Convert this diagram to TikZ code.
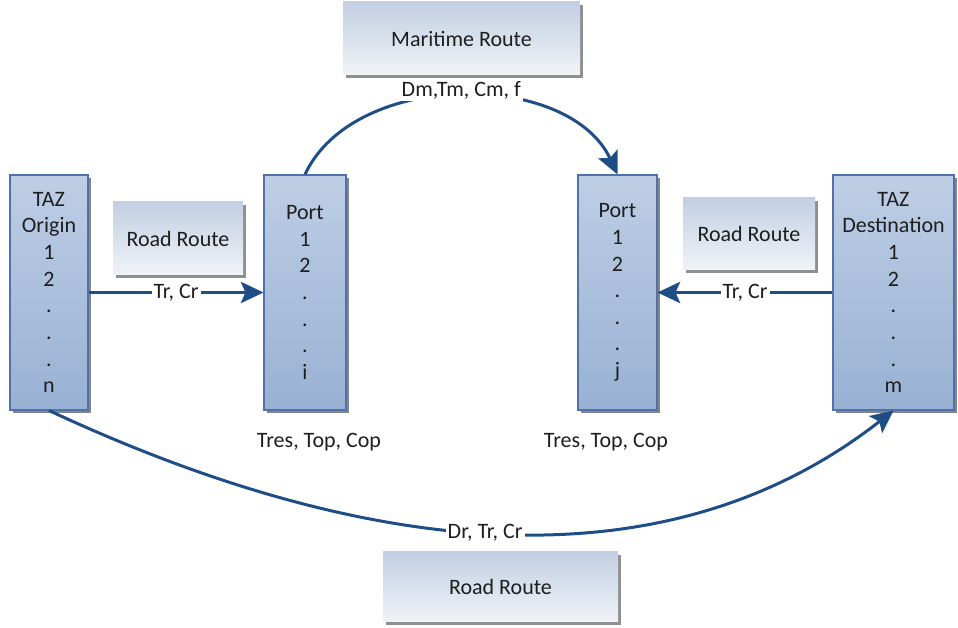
\documentclass[tikz,border=0pt]{standalone}
\usepackage{fontspec}
\setmainfont{Carlito}
\usetikzlibrary{arrows.meta}
\usetikzlibrary{shadows}
\definecolor{flowblue}{RGB}{31,78,135}
\definecolor{boxtop}{RGB}{190,206,229}
\definecolor{boxbot}{RGB}{152,177,211}
\definecolor{boxline}{RGB}{80,114,168}
\definecolor{routetop}{RGB}{194,207,226}
\definecolor{routebot}{RGB}{240,243,248}
\definecolor{inktext}{RGB}{30,30,30}
\tikzset{tallbox/.style = {draw=boxline, line width=0.8pt,
                           top color=boxtop, bottom color=boxbot,
                           minimum height=176.25pt, inner sep=0pt,
                           align=center, text=inktext,
                           drop shadow={shadow xshift=2.2pt, shadow yshift=-2.2pt,
                                        fill=black!60, opacity=0.8}}}
\tikzset{routebox/.style = {top color=routetop, bottom color=routebot,
                            inner sep=0pt, text=inktext,
                            drop shadow={shadow xshift=2.2pt, shadow yshift=-2.2pt,
                                         fill=black!55, opacity=0.8}}}
\tikzset{flow/.style = {draw=flowblue, line width=2.25pt,
                        -{Stealth[length=17pt, width=16pt, inset=3.5pt]}}}
\tikzset{lbl/.style = {fill=white, inner sep=1.5pt, text=inktext}}
\tikzset{txt/.style = {inner sep=0pt, text=inktext}}

\begin{document}
\begin{tikzpicture}[x=0.75pt, y=0.75pt, font=\fontsize{16.5}{20}\selectfont]
  \useasboundingbox (0,0) rectangle (958,628);
  \node[tallbox, minimum width=58.5pt] (orig) at (49,335.5) {TAZ\\Origin\\1\\2\\.\\.\\.\\n};
  \node[tallbox, minimum width=61.5pt] (porti) at (305,335.5) {Port\\1\\2\\.\\.\\.\\i};
  \node[tallbox, minimum width=59.25pt] (portj) at (617.5,335.5) {Port\\1\\2\\.\\.\\.\\j};
  \node[tallbox, minimum width=90.75pt] (dest) at (893.5,335.5) {TAZ\\Destination\\1\\2\\.\\.\\.\\m};
  \node[routebox, minimum width=97.5pt, minimum height=54.75pt] (roadl) at (178,389.5) {Road Route};
  \node[routebox, minimum width=99pt, minimum height=54pt] (roadr) at (749,394) {Road Route};
  \node[routebox, minimum width=177.75pt, minimum height=54.75pt] (sea) at (461.5,589.5) {Maritime Route};
  \node[routebox, minimum width=176.25pt, minimum height=52.5pt] (roadb) at (500.5,41) {Road Route};
  \node[txt] (opi) at (319,186) {Tres, Top, Cop};
  \node[txt] (opj) at (606,186) {Tres, Top, Cop};
  \draw[flow] (orig) -- node[lbl] {Tr, Cr} (porti);
  \draw[flow] (dest) -- node[lbl] {Tr, Cr} (portj);
  \draw[flow] (porti.north) to[out=65, in=115, looseness=0.95]
    node[lbl, yshift=4pt] {Dm,Tm, Cm, f} (portj.north);
  \draw[flow] (orig.south) to[out=-25, in=-142, looseness=0.95]
    node[lbl] {Dr, Tr, Cr} (dest.south);
\end{tikzpicture}
\end{document}
